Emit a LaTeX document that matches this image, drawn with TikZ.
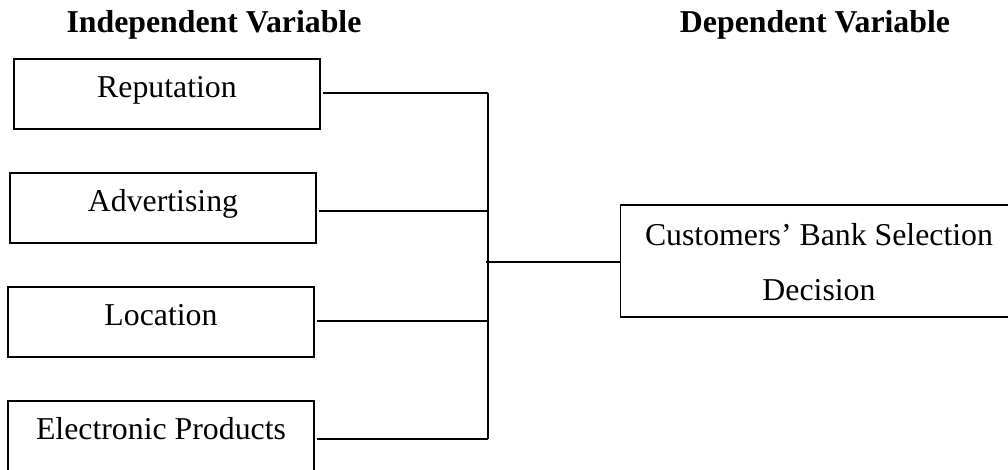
\documentclass[tikz,border=0pt]{standalone}
\usepackage{fontspec}
\setmainfont{Liberation Serif}
\begin{document}
\begin{tikzpicture}[x=0.5pt,y=-0.5pt,
  txt/.style={font=\fontsize{15.9}{19}\selectfont, inner sep=0pt},
  hdr/.style={font=\fontsize{15.9}{19}\selectfont\bfseries, inner sep=0pt, anchor=base},
  ivbox/.style={txt, draw, line width=0.6pt, minimum width=153pt, minimum height=35pt,
    text height=0.6em, text depth=0.29em},
  dvbox/.style={draw, line width=0.6pt, minimum width=200pt, minimum height=56pt, inner sep=0pt, anchor=west},
  conn/.style={line width=0.8pt}]
\useasboundingbox (0,0) rectangle (1008,470);

\node[hdr] (ivh) at (214,33) {Independent Variable};
\node[hdr] (dvh) at (815,33) {Dependent Variable};

\node[ivbox] (rep) at (167,94) {Reputation};
\node[ivbox] (adv) at (163,208) {Advertising};
\node[ivbox] (loc) at (161,322) {Location};
\node[ivbox] (ele) at (161,436) {Electronic Products};

\node[dvbox] (dv) at (620,261) {};
\node[txt, anchor=base] (dvt1) at (819,246) {Customers’ Bank Selection};
\node[txt, anchor=base] (dvt2) at (819,301) {Decision};

\coordinate (j1) at (488,93);
\coordinate (j2) at (488,211);
\coordinate (j3) at (488,321);
\coordinate (j4) at (488,439);
\coordinate (jm) at (486,262);

\draw[conn, shorten <=1pt] (rep.east |- j1) -- (j1);
\draw[conn, shorten <=1pt] (adv.east |- j2) -- (j2);
\draw[conn, shorten <=1pt] (loc.east |- j3) -- (j3);
\draw[conn, shorten <=1pt] (ele.east |- j4) -- (j4);
\draw[conn] (j1) -- (j4);
\draw[conn] (jm) -- (dv.west |- jm);
\end{tikzpicture}
\end{document}
